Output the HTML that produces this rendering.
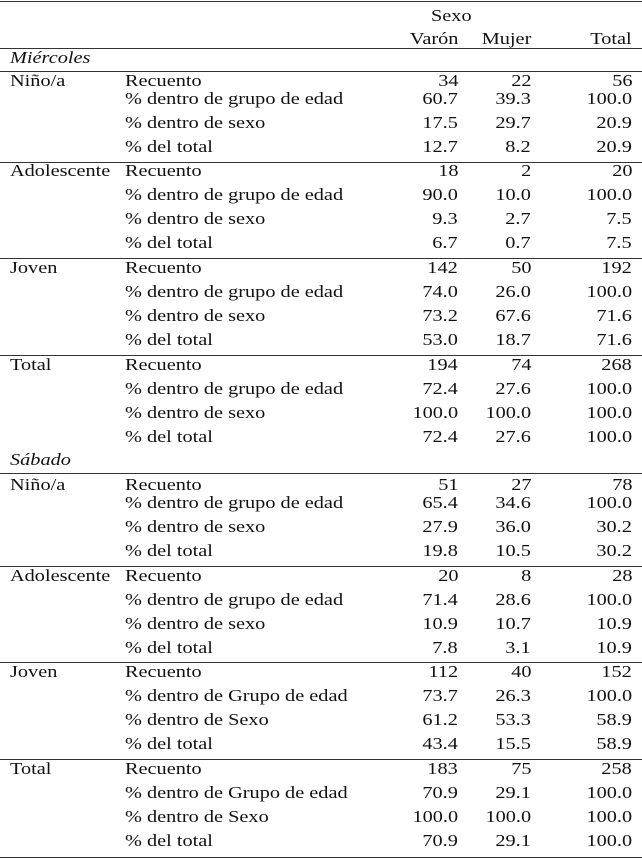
<!DOCTYPE html>
<html><head><meta charset="utf-8"><style>
body{margin:0;width:642px;height:859px;background:#fff;position:relative;overflow:hidden;font-family:"Liberation Serif",serif;font-size:16.5px;color:#111}
.r{position:absolute;left:0;width:642px;height:18px;line-height:18px;white-space:nowrap}
.r span{position:absolute;top:0;transform:scaleX(1.23);transform-origin:left center}
.a{left:10px}.b{left:125px}
.r span.v,.r span.m,.r span.t{transform-origin:right center}
.v{right:184px}.m{right:111px}.t{right:10px}
.l{position:absolute;left:0;width:642px;height:1px;background:#333}
i{font-style:italic}
</style></head><body>
<div class="l" style="top:1px"></div>
<div class="l" style="top:48px"></div>
<div class="l" style="top:71px"></div>
<div class="l" style="top:162px"></div>
<div class="l" style="top:258px"></div>
<div class="l" style="top:355px"></div>
<div class="l" style="top:473px"></div>
<div class="l" style="top:566px"></div>
<div class="l" style="top:662px"></div>
<div class="l" style="top:759px"></div>
<div class="l" style="top:857px"></div>

<div class="r" style="top:7px"><span style="left:431px">Sexo</span></div>
<div class="r" style="top:30px"><span class="v">Varón</span><span class="m">Mujer</span><span class="t">Total</span></div>
<div class="r" style="top:49px"><span class="a"><i>Miércoles</i></span></div>

<div class="r" style="top:72px"><span class="a">Niño/a</span><span class="b">Recuento</span><span class="v">34</span><span class="m">22</span><span class="t">56</span></div>
<div class="r" style="top:90px"><span class="b">% dentro de grupo de edad</span><span class="v">60.7</span><span class="m">39.3</span><span class="t">100.0</span></div>
<div class="r" style="top:114px"><span class="b">% dentro de sexo</span><span class="v">17.5</span><span class="m">29.7</span><span class="t">20.9</span></div>
<div class="r" style="top:138px"><span class="b">% del total</span><span class="v">12.7</span><span class="m">8.2</span><span class="t">20.9</span></div>

<div class="r" style="top:162px"><span class="a">Adolescente</span><span class="b">Recuento</span><span class="v">18</span><span class="m">2</span><span class="t">20</span></div>
<div class="r" style="top:186px"><span class="b">% dentro de grupo de edad</span><span class="v">90.0</span><span class="m">10.0</span><span class="t">100.0</span></div>
<div class="r" style="top:210px"><span class="b">% dentro de sexo</span><span class="v">9.3</span><span class="m">2.7</span><span class="t">7.5</span></div>
<div class="r" style="top:234px"><span class="b">% del total</span><span class="v">6.7</span><span class="m">0.7</span><span class="t">7.5</span></div>

<div class="r" style="top:259px"><span class="a">Joven</span><span class="b">Recuento</span><span class="v">142</span><span class="m">50</span><span class="t">192</span></div>
<div class="r" style="top:283px"><span class="b">% dentro de grupo de edad</span><span class="v">74.0</span><span class="m">26.0</span><span class="t">100.0</span></div>
<div class="r" style="top:307px"><span class="b">% dentro de sexo</span><span class="v">73.2</span><span class="m">67.6</span><span class="t">71.6</span></div>
<div class="r" style="top:331px"><span class="b">% del total</span><span class="v">53.0</span><span class="m">18.7</span><span class="t">71.6</span></div>

<div class="r" style="top:356px"><span class="a">Total</span><span class="b">Recuento</span><span class="v">194</span><span class="m">74</span><span class="t">268</span></div>
<div class="r" style="top:380px"><span class="b">% dentro de grupo de edad</span><span class="v">72.4</span><span class="m">27.6</span><span class="t">100.0</span></div>
<div class="r" style="top:404px"><span class="b">% dentro de sexo</span><span class="v">100.0</span><span class="m">100.0</span><span class="t">100.0</span></div>
<div class="r" style="top:428px"><span class="b">% del total</span><span class="v">72.4</span><span class="m">27.6</span><span class="t">100.0</span></div>

<div class="r" style="top:451px"><span class="a"><i>Sábado</i></span></div>

<div class="r" style="top:476px"><span class="a">Niño/a</span><span class="b">Recuento</span><span class="v">51</span><span class="m">27</span><span class="t">78</span></div>
<div class="r" style="top:494px"><span class="b">% dentro de grupo de edad</span><span class="v">65.4</span><span class="m">34.6</span><span class="t">100.0</span></div>
<div class="r" style="top:518px"><span class="b">% dentro de sexo</span><span class="v">27.9</span><span class="m">36.0</span><span class="t">30.2</span></div>
<div class="r" style="top:542px"><span class="b">% del total</span><span class="v">19.8</span><span class="m">10.5</span><span class="t">30.2</span></div>

<div class="r" style="top:567px"><span class="a">Adolescente</span><span class="b">Recuento</span><span class="v">20</span><span class="m">8</span><span class="t">28</span></div>
<div class="r" style="top:591px"><span class="b">% dentro de grupo de edad</span><span class="v">71.4</span><span class="m">28.6</span><span class="t">100.0</span></div>
<div class="r" style="top:615px"><span class="b">% dentro de sexo</span><span class="v">10.9</span><span class="m">10.7</span><span class="t">10.9</span></div>
<div class="r" style="top:639px"><span class="b">% del total</span><span class="v">7.8</span><span class="m">3.1</span><span class="t">10.9</span></div>

<div class="r" style="top:663px"><span class="a">Joven</span><span class="b">Recuento</span><span class="v">112</span><span class="m">40</span><span class="t">152</span></div>
<div class="r" style="top:687px"><span class="b">% dentro de Grupo de edad</span><span class="v">73.7</span><span class="m">26.3</span><span class="t">100.0</span></div>
<div class="r" style="top:711px"><span class="b">% dentro de Sexo</span><span class="v">61.2</span><span class="m">53.3</span><span class="t">58.9</span></div>
<div class="r" style="top:735px"><span class="b">% del total</span><span class="v">43.4</span><span class="m">15.5</span><span class="t">58.9</span></div>

<div class="r" style="top:760px"><span class="a">Total</span><span class="b">Recuento</span><span class="v">183</span><span class="m">75</span><span class="t">258</span></div>
<div class="r" style="top:784px"><span class="b">% dentro de Grupo de edad</span><span class="v">70.9</span><span class="m">29.1</span><span class="t">100.0</span></div>
<div class="r" style="top:808px"><span class="b">% dentro de Sexo</span><span class="v">100.0</span><span class="m">100.0</span><span class="t">100.0</span></div>
<div class="r" style="top:832px"><span class="b">% del total</span><span class="v">70.9</span><span class="m">29.1</span><span class="t">100.0</span></div>
</body></html>
